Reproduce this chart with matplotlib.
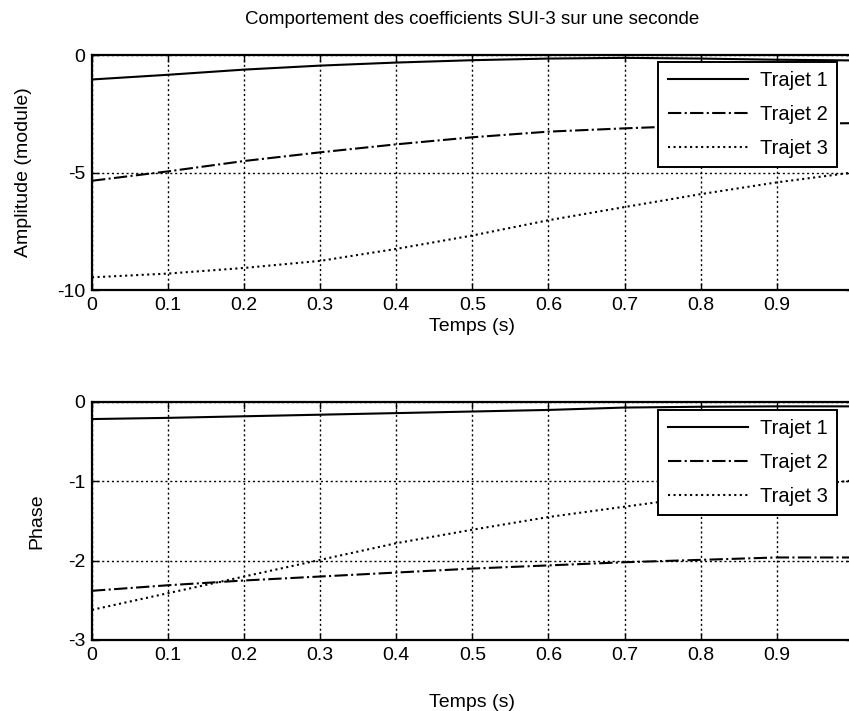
import numpy as np
import matplotlib
matplotlib.use("Agg")
import matplotlib.pyplot as plt

plt.rcParams["font.family"] = ["Liberation Sans", "DejaVu Sans"]

# Time samples (s)
t = [0.0, 0.1, 0.2, 0.3, 0.4, 0.5, 0.6, 0.7, 0.8, 0.9, 1.0]

# Amplitude (module)
amp1 = [-1.04, -0.84, -0.62, -0.45, -0.32, -0.22, -0.15, -0.12, -0.15, -0.2, -0.23]
amp2 = [-5.35, -4.95, -4.51, -4.14, -3.80, -3.50, -3.26, -3.12, -3.0, -2.93, -2.9]
amp3 = [-9.46, -9.30, -9.06, -8.76, -8.25, -7.68, -7.03, -6.47, -5.92, -5.42, -5.0]

# Phase
ph1 = [-0.215, -0.20, -0.18, -0.16, -0.14, -0.12, -0.10, -0.07, -0.06, -0.055, -0.055]
ph2 = [-2.38, -2.31, -2.25, -2.20, -2.15, -2.10, -2.06, -2.02, -1.99, -1.96, -1.96]
ph3 = [-2.62, -2.41, -2.20, -1.99, -1.78, -1.61, -1.45, -1.32, -1.19, -1.09, -0.99]

labels = ["Trajet 1", "Trajet 2", "Trajet 3"]
styles = ["-", "-.", ":"]
xticks = [0, 0.1, 0.2, 0.3, 0.4, 0.5, 0.6, 0.7, 0.8, 0.9]

fig = plt.figure(figsize=(8.49, 7.11), dpi=100)
ax1 = fig.add_axes([0.1084, 0.5921, 0.896, 0.3305])
ax2 = fig.add_axes([0.1084, 0.0999, 0.896, 0.3347])


def style_axes(ax, ylim, yticks, ylabel, leg_anchor, xpad, ypad):
    ax.set_xlim(0, 1)
    ax.set_ylim(*ylim)
    ax.set_xticks(xticks)
    ax.set_xticklabels([("%g" % v) for v in xticks])
    ax.set_yticks(yticks)
    ax.set_yticklabels([("%g" % v) for v in yticks])
    ax.grid(True, color="black", linestyle=(0, (1.5, 2)), linewidth=1.0)
    ax.tick_params(direction="in", labelsize=14, length=5, width=1, pad=5,
                   top=True, right=True)
    for s in ax.spines.values():
        s.set_linewidth(1.6)
    ax.set_xlabel("Temps (s)", fontsize=14, labelpad=xpad)
    ax.set_ylabel(ylabel, fontsize=14, labelpad=ypad)
    leg = ax.legend(loc="upper right", bbox_to_anchor=leg_anchor,
                    bbox_transform=fig.transFigure, fontsize=14.5,
                    fancybox=False, framealpha=1, edgecolor="black",
                    handlelength=4.0, handletextpad=0.6, borderaxespad=0,
                    labelspacing=0.75, borderpad=0.45)
    leg.get_frame().set_linewidth(1.4)


for y, ls, lab in zip([amp1, amp2, amp3], styles, labels):
    ax1.plot(t, y, linestyle=ls, color="black", linewidth=1.5, label=lab)
style_axes(ax1, (-10, 0), [-10, -5, 0], "Amplitude (module)",
           (0.986, 0.9128), 3, 18)
ax1.set_title("Comportement des coefficients SUI-3 sur une seconde",
              fontsize=13.5, pad=22)

for y, ls, lab in zip([ph1, ph2, ph3], styles, labels):
    ax2.plot(t, y, linestyle=ls, color="black", linewidth=1.5, label=lab)
style_axes(ax2, (-3, 0), [-3, -2, -1, 0], "Phase", (0.986, 0.4234), 22, 16)

fig.savefig("out.png", dpi=100)
